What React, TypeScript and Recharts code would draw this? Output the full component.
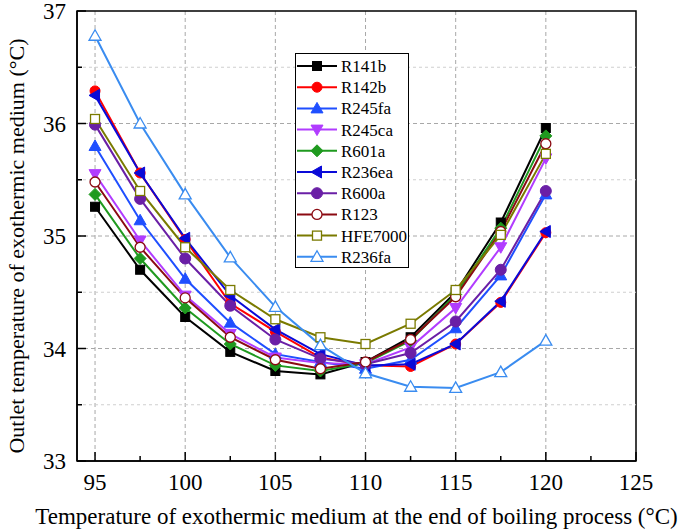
import {
  CartesianGrid,
  Legend,
  Line,
  LineChart,
  ReferenceArea,
  ReferenceLine,
  XAxis,
  YAxis
} from "recharts";

const temps = [95, 97.5, 100, 102.5, 105, 107.5, 110, 112.5, 115, 117.5, 120];

const r141b = [35.26, 34.7, 34.28, 33.97, 33.8, 33.77, 33.88, 34.1, 34.5, 35.12, 35.96];
const r142b = [36.29, 35.56, 34.97, 34.4, 34.15, 33.92, 33.85, 33.84, 34.04, 34.41, 35.03];
const r245fa = [35.8, 35.14, 34.62, 34.23, 33.95, 33.88, 33.82, 33.9, 34.18, 34.65, 35.37];
const r245ca = [35.55, 34.96, 34.47, 34.13, 33.92, 33.87, 33.86, 34.01, 34.36, 34.9, 35.69];
const r601a = [35.37, 34.8, 34.36, 34.04, 33.85, 33.8, 33.87, 34.07, 34.48, 35.07, 35.89];
const r236ea = [36.25, 35.56, 34.98, 34.47, 34.17, 33.95, 33.85, 33.86, 34.04, 34.42, 35.04];
const r600a = [35.99, 35.33, 34.8, 34.38, 34.08, 33.91, 33.86, 33.96, 34.24, 34.7, 35.4];
const r123 = [35.48, 34.9, 34.45, 34.1, 33.9, 33.82, 33.88, 34.08, 34.46, 35.04, 35.82];
const hfe7000 = [36.04, 35.4, 34.9, 34.52, 34.26, 34.1, 34.04, 34.22, 34.52, 35.01, 35.73];
const r236fa = [36.78, 36.0, 35.37, 34.81, 34.37, 34.03, 33.78, 33.66, 33.65, 33.79, 34.07];

const xTicks = [95, 97.5, 100, 102.5, 105, 107.5, 110, 112.5, 115, 117.5, 120, 122.5, 125];
const yTicks = [33, 33.5, 34, 34.5, 35, 35.5, 36, 36.5, 37];

type Shape = "square" | "circle" | "up" | "down" | "diamond" | "left" | "hex";

const series: { key: string; values: number[]; color: string; shape: Shape; open?: boolean }[] = [
  { key: "R141b", values: r141b, color: "#000000", shape: "square" },
  { key: "R142b", values: r142b, color: "#ff0000", shape: "circle" },
  { key: "R245fa", values: r245fa, color: "#1f4fff", shape: "up" },
  { key: "R245ca", values: r245ca, color: "#b13cff", shape: "down" },
  { key: "R601a", values: r601a, color: "#1f9a1f", shape: "diamond" },
  { key: "R236ea", values: r236ea, color: "#0a0ad8", shape: "left" },
  { key: "R600a", values: r600a, color: "#6a1fa6", shape: "hex" },
  { key: "R123", values: r123, color: "#8b0a12", shape: "circle", open: true },
  { key: "HFE7000", values: hfe7000, color: "#7a7a00", shape: "square", open: true },
  { key: "R236fa", values: r236fa, color: "#3a8cf0", shape: "up", open: true }
];

const data = temps.map((t, i) => {
  const row: Record<string, number> = { t };
  series.forEach((s) => (row[s.key] = s.values[i]));
  return row;
});

const FONT = "'Liberation Serif', 'Times New Roman', serif";

function Mark({ shape, cx, cy, color, open }: { shape: Shape; cx: number; cy: number; color: string; open?: boolean }) {
  const fill = open ? "#ffffff" : color;
  const p = { fill, stroke: color, strokeWidth: open ? 1.3 : 1 };
  if (shape === "square") return <rect x={cx - 4.5} y={cy - 4.5} width={9} height={9} {...p} />;
  if (shape === "circle") return <circle cx={cx} cy={cy} r={5} {...p} />;
  if (shape === "hex") return <circle cx={cx} cy={cy} r={5.5} {...p} />;
  let pts = "";
  if (shape === "up") pts = `${cx},${cy - 6} ${cx + 6},${cy + 4.5} ${cx - 6},${cy + 4.5}`;
  if (shape === "down") pts = `${cx},${cy + 6} ${cx + 6},${cy - 4.5} ${cx - 6},${cy - 4.5}`;
  if (shape === "left") pts = `${cx - 6},${cy} ${cx + 4.5},${cy - 6} ${cx + 4.5},${cy + 6}`;
  if (shape === "diamond") pts = `${cx},${cy - 6} ${cx + 6},${cy} ${cx},${cy + 6} ${cx - 6},${cy}`;
  return <polygon points={pts} {...p} />;
}

function XTick({ x, y, payload }: any) {
  const major = payload.value % 5 === 0;
  const axisY = y - 13;
  return (
    <g>
      <line x1={x} y1={axisY} x2={x} y2={axisY - (major ? 9 : 5)} stroke="#000" strokeWidth={1.5} />
      {major && (
        <text x={x} y={y} dy="0.71em" textAnchor="middle" fontSize={23} style={{ fontFamily: FONT }} fill="#000">
          {payload.value}
        </text>
      )}
    </g>
  );
}

function YTick({ x, y, payload }: any) {
  const major = Number.isInteger(payload.value);
  const axisX = x + 11;
  return (
    <g>
      <line x1={axisX} y1={y} x2={axisX + (major ? 9 : 5)} y2={y} stroke="#000" strokeWidth={1.5} />
      {major && (
        <text x={x} y={y} dy="0.35em" textAnchor="end" fontSize={23} style={{ fontFamily: FONT }} fill="#000">
          {payload.value}
        </text>
      )}
    </g>
  );
}

function LegendBox() {
  return (
    <div
      style={{
        width: 114,
        height: 215,
        border: "1px solid #000",
        background: "#fff",
        boxSizing: "border-box",
        fontFamily: FONT
      }}
    >
      <svg width={112} height={213} style={{ display: "block", overflow: "visible" }}>
        {series.map((s, i) => {
          const cy = 12 + i * 21.2;
          return (
            <g key={s.key}>
              <line x1={1} y1={cy} x2={41} y2={cy} stroke={s.color} strokeWidth={2} />
              <Mark shape={s.shape} cx={21} cy={cy} color={s.color} open={s.open} />
              <text x={45} y={cy} dy="0.35em" fontSize={17} style={{ fontFamily: FONT }} fill="#000">
                {s.key}
              </text>
            </g>
          );
        })}
      </svg>
    </div>
  );
}

function YLabel() {
  return (
    <text
      x={0}
      y={0}
      transform="translate(16, 246) rotate(-90)"
      textAnchor="middle"
      dominantBaseline="central"
      fontSize={22}
      style={{ fontFamily: FONT }}
      fill="#000"
    >
      Outlet temperature of exothermic medium (°C)
    </text>
  );
}

export default function App() {
  return (
    <div style={{ position: "absolute", left: 0, top: 0, width: 685, height: 530, background: "#fff", fontFamily: FONT }}>
      <LineChart
        width={685}
        height={530}
        data={data}
        margin={{ top: 11, right: 49, bottom: 0, left: 0 }}
        style={{ fontFamily: FONT }}
      >
        <CartesianGrid
          stroke="#a8a8a8"
          strokeDasharray="4 3"
          horizontalValues={[34, 35, 36]}
          verticalValues={[95, 100, 105, 110, 115, 120]}
        />
        {[33.5, 34.5, 35.5, 36.5].map((v) => (
          <ReferenceLine key={v} y={v} stroke="#cfcfcf" strokeDasharray="3 3" />
        ))}
        <XAxis
          dataKey="t"
          type="number"
          domain={[94, 125]}
          ticks={xTicks}
          interval={0}
          allowDataOverflow
          height={69}
          tickSize={0}
          tickMargin={13}
          tick={<XTick />}
          stroke="#000"
          strokeWidth={1.5}
          label={{
            value: "Temperature of exothermic medium at the end of boiling process (°C)",
            position: "insideBottom",
            offset: 6,
            fontSize: 23,
            fill: "#000",
            style: { fontFamily: FONT }
          }}
        />
        <YAxis
          type="number"
          domain={[33, 37]}
          ticks={yTicks}
          interval={0}
          allowDataOverflow
          width={77}
          tickSize={0}
          tickMargin={11}
          tick={<YTick />}
          stroke="#000"
          strokeWidth={1.5}
          label={<YLabel />}
        />
        <ReferenceArea x1={94} x2={125} y1={33} y2={37} fill="none" stroke="#000" strokeWidth={1.5} />
        {series.map((s) => (
          <Line
            key={s.key}
            dataKey={s.key}
            stroke={s.color}
            strokeWidth={2}
            isAnimationActive={false}
            dot={(p: any) => (
              <Mark key={`${s.key}-${p.index}`} shape={s.shape} cx={p.cx} cy={p.cy} color={s.color} open={s.open} />
            )}
            activeDot={false}
          />
        ))}
        <Legend
          layout="vertical"
          align="center"
          verticalAlign="middle"
          wrapperStyle={{ left: 295, top: 53 }}
          content={() => <LegendBox />}
        />
      </LineChart>
    </div>
  );
}
